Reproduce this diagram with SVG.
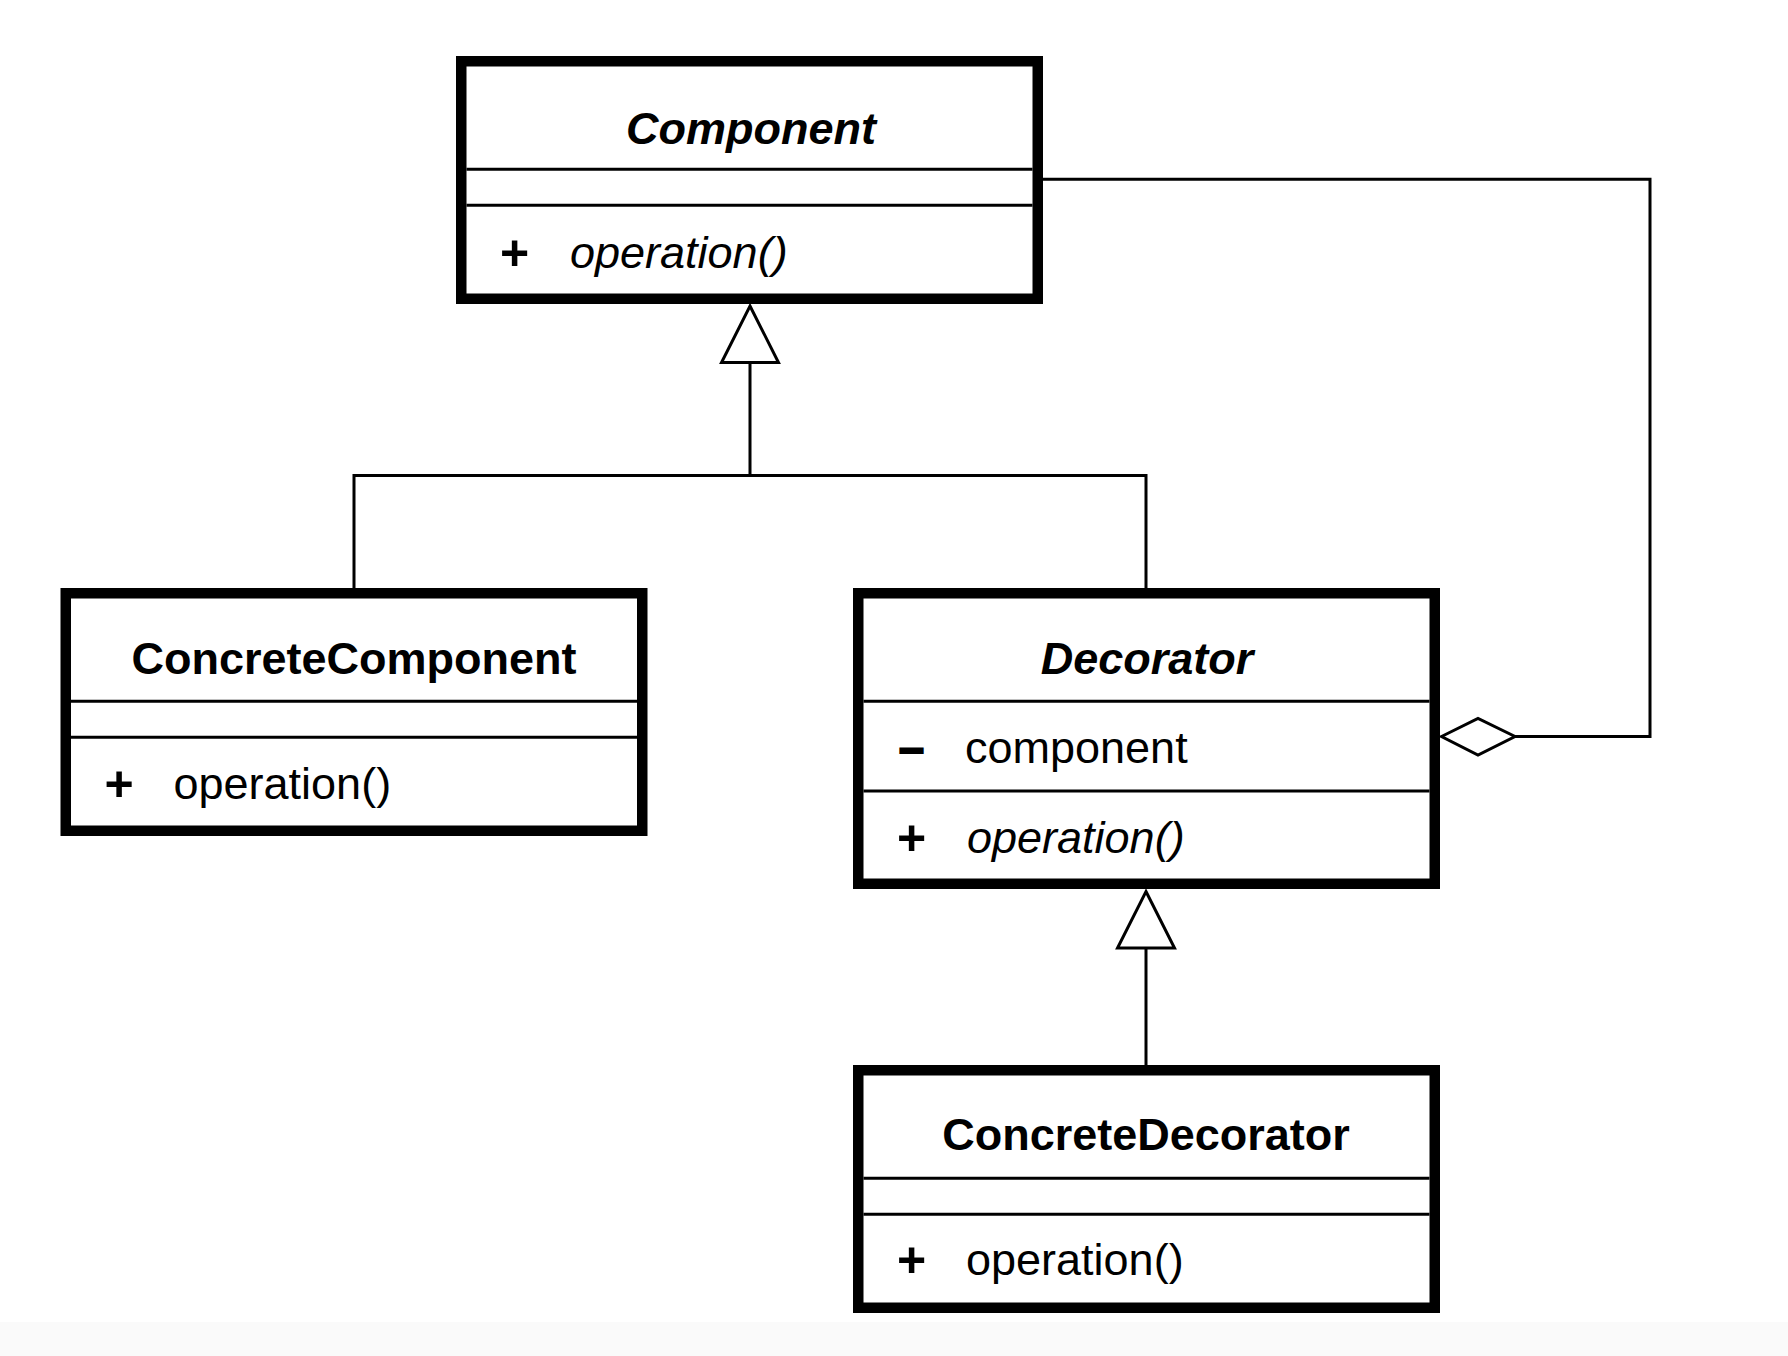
<svg xmlns="http://www.w3.org/2000/svg" xmlns:xlink="http://www.w3.org/1999/xlink" width="1788" height="1356" viewBox="0 0 1788 1356">
  <style>
    .box { fill: #fff; stroke: #000; stroke-width: 10.5; }
    .sep { stroke: #000; stroke-width: 3; }
    .conn { fill: none; stroke: #000; stroke-width: 3; stroke-linejoin: miter; }
    .head { fill: #fff; stroke: #000; stroke-width: 3; stroke-linejoin: miter; }
    text { font-family: "Liberation Sans", Arial, Helvetica, sans-serif; font-size: 45px; fill: #000; }
    .name { font-weight: bold; text-anchor: middle; }
    .abstract { font-style: italic; }
    .vis { font-weight: bold; font-size: 50px; }
    .dash { font-weight: bold; stroke: #000; stroke-width: 2; }
  </style>
  <defs>
    <!-- hollow generalization triangle, tip at origin -->
    <path id="gen" class="head" d="M0,0 L28.5,56.5 L-28.5,56.5 Z"/>
  </defs>

  <rect x="0" y="0" width="1788" height="1356" fill="#fff"/>
  <rect x="0" y="1322" width="1788" height="34" fill="#fafafa"/>

  <g id="connectors">
    <!-- generalization: ConcreteComponent / Decorator -> Component -->
    <path class="conn" d="M750,362.5 V475.5 M354,588 V475.5 H1146 V588"/>
    <use xlink:href="#gen" x="750" y="306"/>
    <!-- generalization: ConcreteDecorator -> Decorator -->
    <path class="conn" d="M1146,947.5 V1065"/>
    <use xlink:href="#gen" x="1146" y="891.5"/>
    <!-- aggregation: Decorator holds a Component -->
    <path class="conn" d="M1043,179.3 H1650 V736.5 H1515"/>
    <polygon class="head" points="1441.5,736.5 1478,718.3 1515,736.5 1478,755"/>
  </g>

  <g id="component">
    <rect class="box" x="461.25" y="61.25" width="576.5" height="237.5"/>
    <line class="sep" x1="466.5" y1="169.3" x2="1032.5" y2="169.3"/>
    <line class="sep" x1="466.5" y1="205.3" x2="1032.5" y2="205.3"/>
    <text class="name abstract" x="751" y="144">Component</text>
    <text class="vis" x="500" y="270">+</text>
    <text class="abstract" x="570" y="268.3">operation()</text>
  </g>

  <g id="concrete-component">
    <rect class="box" x="65.75" y="593.25" width="576.5" height="237.5"/>
    <line class="sep" x1="71" y1="701.3" x2="637" y2="701.3"/>
    <line class="sep" x1="71" y1="737.3" x2="637" y2="737.3"/>
    <text class="name" x="354" y="674">ConcreteComponent</text>
    <text class="vis" x="104.5" y="801">+</text>
    <text x="173.5" y="799.3">operation()</text>
  </g>

  <g id="decorator">
    <rect class="box" x="858.25" y="593.25" width="576.5" height="290.5"/>
    <line class="sep" x1="863.5" y1="701.3" x2="1429.5" y2="701.3"/>
    <line class="sep" x1="863.5" y1="791" x2="1429.5" y2="791"/>
    <text class="name abstract" x="1147" y="673.5">Decorator</text>
    <text class="dash" x="899" y="762.7">–</text>
    <text x="965" y="762.7">component</text>
    <text class="vis" x="897" y="855">+</text>
    <text class="abstract" x="967" y="853.3">operation()</text>
  </g>

  <g id="concrete-decorator">
    <rect class="box" x="858.25" y="1070.25" width="576.5" height="237.5"/>
    <line class="sep" x1="863.5" y1="1178.3" x2="1429.5" y2="1178.3"/>
    <line class="sep" x1="863.5" y1="1214.3" x2="1429.5" y2="1214.3"/>
    <text class="name" x="1146" y="1150">ConcreteDecorator</text>
    <text class="vis" x="897" y="1276.7">+</text>
    <text x="966" y="1275">operation()</text>
  </g>
</svg>
